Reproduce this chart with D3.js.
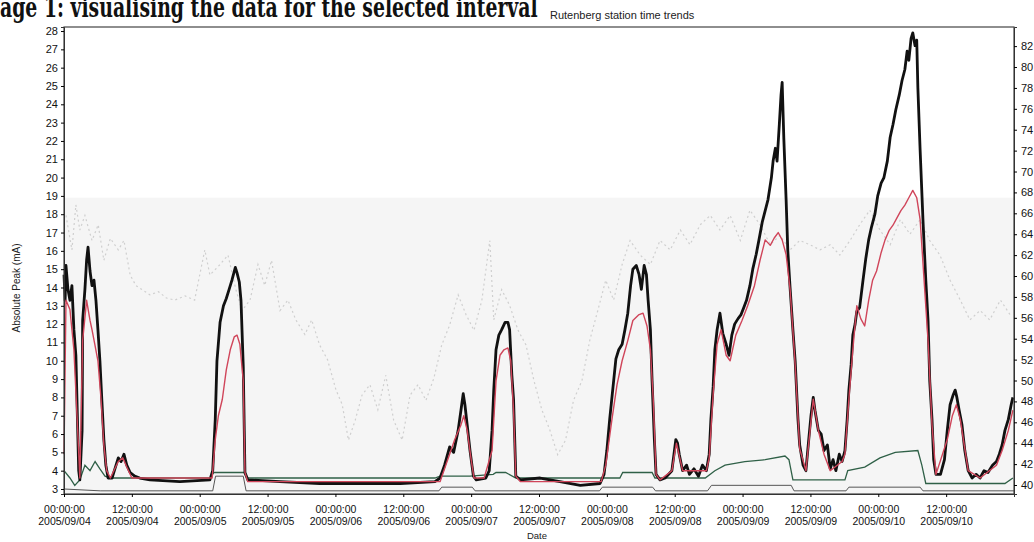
<!DOCTYPE html>
<html>
<head>
<meta charset="utf-8">
<script src="https://cdn.jsdelivr.net/npm/d3@7"></script>
<style>
  body { margin: 0; background: #fff; }
  svg { display: block; }
  .tick text { font-family: "Liberation Sans", Arial, sans-serif; fill: #111; }
</style>
</head>
<body>
<div id="chart"></div>
<script>
// hours after 2005/09/04 00:00, value (mA)
const phaseA = [[0,14.7],[0.2,13.3],[0.35,15.2],[0.7,13.9],[1.05,13.3],[1.4,14.1],[1.75,11.7],[2.1,10.3],[2.6,4.0],[2.8,3.5],[3.2,6.2],[3.3,12.2],[3.7,13.9],[4.0,15.5],[4.25,16.2],[4.6,14.9],[4.95,14.1],[5.3,14.4],[5.65,13.3],[6.0,11.7],[6.35,10.0],[6.7,7.8],[7.05,5.7],[7.4,4.3],[7.8,3.6],[8.5,3.6],[9.0,4.1],[9.6,4.7],[10.1,4.5],[10.6,4.9],[11.1,4.3],[11.7,3.9],[12.5,3.7],[13.4,3.6],[15.2,3.5],[20.5,3.4],[25.8,3.5],[26.3,4.0],[26.75,6.8],[27.05,10.0],[27.6,12.1],[28.2,13.0],[28.7,13.4],[29.2,13.9],[29.7,14.4],[30.3,15.1],[30.6,14.8],[31.0,14.3],[31.3,13.3],[31.7,9.7],[32.0,3.9],[32.5,3.5],[38.2,3.4],[45.2,3.3],[52.4,3.3],[59.5,3.3],[65.6,3.4],[66.5,3.6],[67.3,4.3],[68.2,5.3],[68.9,5.0],[69.7,6.2],[70.2,7.3],[70.6,8.2],[70.9,7.6],[71.3,6.5],[71.8,5.1],[72.4,3.7],[72.9,3.5],[74.6,3.6],[75.2,4.0],[75.7,6.2],[76.0,8.4],[76.4,10.6],[76.9,11.4],[77.4,11.7],[78.0,12.1],[78.5,12.1],[78.8,11.7],[79.2,9.2],[79.5,7.9],[79.9,3.7],[80.7,3.5],[84.2,3.6],[87.7,3.4],[91.3,3.2],[94.8,3.3],[95.5,3.8],[96.0,5.1],[96.5,6.8],[97.1,8.6],[97.6,10.1],[98.1,10.6],[98.7,10.9],[99.2,11.7],[99.7,12.6],[100.2,14.1],[100.6,15.0],[101.2,15.2],[101.7,14.7],[102.1,13.9],[102.6,15.2],[103.0,14.7],[103.3,13.3],[103.7,11.7],[104.0,8.9],[104.4,5.7],[104.7,3.8],[105.4,3.5],[106.3,3.6],[107.5,4.0],[108.2,5.7],[108.5,5.5],[108.8,4.9],[109.4,4.0],[110.1,4.3],[110.6,3.8],[111.4,4.1],[112.2,3.7],[112.9,4.3],[113.6,4.0],[114.1,4.9],[114.4,6.8],[114.8,8.6],[115.1,10.6],[115.5,11.7],[116.0,12.6],[116.5,11.5],[117.1,10.9],[117.6,10.3],[118.1,11.4],[118.6,12.0],[119.2,12.3],[119.7,12.5],[120.2,12.9],[120.7,13.3],[121.3,14.1],[121.8,15.0],[122.4,15.8],[122.9,16.6],[123.5,17.6],[124.0,18.2],[124.5,18.8],[125.1,20.0],[125.4,20.9],[125.8,21.6],[126.1,20.9],[126.5,22.9],[126.8,24.5],[127.0,25.2],[127.3,22.1],[127.7,18.8],[128.0,16.0],[128.4,14.0],[128.9,11.7],[129.3,10.0],[129.8,6.8],[130.1,5.4],[130.7,4.3],[131.2,4.0],[131.7,5.7],[132.1,7.0],[132.5,8.0],[132.8,7.3],[133.4,6.2],[133.9,6.0],[134.4,5.1],[135.0,5.4],[135.5,4.1],[136.0,4.6],[136.5,4.0],[137.1,4.9],[137.6,4.5],[138.1,5.1],[138.5,6.8],[138.8,8.4],[139.2,9.8],[139.5,11.4],[139.9,12.0],[140.2,12.7],[140.7,12.9],[141.3,14.4],[141.8,15.6],[142.3,16.6],[142.8,17.3],[143.4,18.0],[143.9,19.0],[144.5,19.7],[145.0,20.0],[145.6,20.9],[146.1,22.2],[146.6,22.9],[147.1,23.7],[147.7,24.5],[148.2,25.3],[148.7,25.9],[149.1,26.9],[149.4,26.4],[149.8,27.6],[150.1,27.9],[150.5,27.2],[150.8,27.5],[151.0,24.9],[151.4,21.5],[151.9,17.7],[152.4,14.4],[152.8,12.2],[153.1,8.9],[153.5,6.8],[153.8,4.6],[154.2,3.8],[155.0,3.8],[155.7,4.6],[156.2,6.2],[156.7,7.6],[157.2,8.1],[157.6,8.4],[157.9,8.0],[158.3,7.3],[158.8,6.5],[159.3,5.1],[159.9,4.0],[160.6,3.6],[161.3,3.8],[162.0,3.6],[162.7,4.0],[163.4,3.9],[164.2,4.3],[164.9,4.5],[165.4,4.9],[165.9,5.4],[166.4,6.2],[167.0,6.8],[167.5,7.6],[167.8,8.0]];

const phaseB = [[0,4.9],[0.35,13.3],[1.05,12.8],[1.75,10.6],[2.5,5.7],[2.8,3.6],[3.3,11.1],[4.0,13.3],[4.6,12.2],[4.95,11.7],[5.45,10.9],[6.0,10.0],[6.55,7.9],[7.05,5.4],[7.55,4.0],[8.2,3.6],[9.6,4.5],[10.4,4.7],[11.1,4.2],[12.0,3.6],[26.2,3.6],[26.75,5.7],[27.3,7.0],[28.0,7.9],[28.7,9.5],[29.4,10.6],[30.1,11.3],[30.6,11.4],[31.1,10.9],[31.7,8.9],[32.0,3.9],[32.5,3.4],[66.5,3.4],[67.3,4.1],[69.1,5.7],[70.2,6.5],[70.7,7.0],[71.3,6.2],[72.0,4.6],[72.5,3.6],[74.3,3.6],[75.7,5.1],[76.4,8.9],[77.1,10.3],[77.8,10.6],[78.5,10.7],[79.0,10.0],[79.5,7.3],[79.9,3.7],[80.7,3.4],[95.0,3.4],[95.8,4.3],[96.9,6.8],[97.8,8.7],[98.7,10.0],[99.7,11.1],[100.6,12.2],[101.6,12.5],[102.4,12.6],[103.1,11.9],[103.7,10.6],[104.2,7.9],[104.7,3.8],[105.4,3.5],[107.5,4.0],[108.3,5.5],[109.4,4.0],[113.6,4.0],[114.1,4.7],[114.8,8.2],[115.5,10.9],[116.2,11.7],[117.1,10.3],[117.8,10.0],[118.8,11.4],[119.9,12.2],[120.9,13.0],[122.1,14.1],[123.1,15.5],[124.0,16.6],[124.9,16.3],[125.6,16.7],[126.3,17.0],[127.0,16.6],[127.7,15.8],[128.4,13.9],[129.3,9.8],[130.1,5.2],[131.2,4.0],[132.5,7.9],[133.4,6.2],[134.4,4.9],[135.5,4.0],[137.6,4.5],[138.1,4.9],[138.8,7.9],[139.5,10.6],[140.2,13.0],[140.9,12.3],[141.6,11.9],[142.3,13.3],[143.0,14.4],[143.7,14.9],[144.5,15.9],[145.2,16.6],[145.9,17.1],[146.6,17.4],[147.3,17.8],[148.0,18.2],[148.7,18.5],[149.4,18.9],[150.1,19.3],[150.8,18.9],[151.4,17.7],[152.1,14.4],[152.8,11.1],[153.5,6.5],[154.2,3.8],[156.2,5.7],[157.1,7.0],[157.8,7.6],[158.5,6.8],[159.2,5.4],[159.9,4.0],[162.0,3.6],[164.9,4.3],[165.9,5.1],[167.0,6.2],[167.8,7.3]];

const neutral = [[0,4.0],[1.05,3.6],[1.9,3.2],[2.8,3.5],[3.7,4.3],[4.6,4.0],[5.5,4.5],[6.35,4.1],[7.25,3.7],[8.2,3.6],[25.8,3.6],[26.5,3.9],[31.8,3.9],[32.4,3.6],[65.6,3.6],[66.5,3.7],[71.8,3.7],[75.9,3.8],[76.4,3.9],[78.1,3.9],[79.9,3.6],[98.3,3.6],[98.8,3.9],[104.0,3.9],[104.5,3.6],[113.4,3.6],[115.1,4.0],[116.9,4.3],[120.4,4.5],[124.0,4.6],[127.5,4.8],[128.2,4.6],[128.9,3.5],[138.1,3.5],[138.6,4.0],[141.6,4.2],[144.3,4.7],[147.0,5.0],[151.0,5.1],[151.7,4.3],[152.4,3.3],[166.4,3.3],[167.8,3.6]];

const baseLine = [[0,3.0],[6.4,2.9],[26.3,2.9],[26.8,3.7],[31.7,3.7],[32.2,2.9],[66.3,2.9],[66.8,3.1],[72.2,3.1],[72.7,2.9],[94.7,2.9],[95.2,3.1],[104.1,3.1],[104.6,2.9],[113.8,2.9],[114.5,3.2],[128.6,3.2],[129.1,2.9],[138.3,2.9],[138.8,3.1],[151.4,3.1],[151.9,2.9],[168,2.9]];

// right axis series
const voltage = [[0.35,65.8],[1.4,62.5],[2.1,66.8],[2.8,64.4],[3.7,65.8],[4.95,63.4],[6.05,64.9],[7.05,61.5],[8.2,63.6],[9.6,62.5],[10.6,63.4],[11.7,60.1],[12.7,59.1],[13.8,58.7],[15.2,58.2],[16.7,58.5],[18.1,57.9],[19.6,57.7],[21.4,58.1],[23.1,57.7],[24.9,62.5],[25.8,60.1],[27.6,61.1],[29.0,62.0],[30.4,58.7],[31.5,56.7],[32.9,57.7],[34.3,61.1],[35.5,59.1],[36.7,61.5],[38.2,56.7],[39.6,57.7],[41.0,55.8],[42.6,54.4],[43.8,55.8],[45.2,53.4],[46.6,52.0],[48.1,49.1],[49.2,47.7],[50.3,44.3],[51.5,46.2],[52.7,48.6],[54.1,49.6],[55.5,47.2],[56.9,50.5],[58.3,46.2],[59.8,44.3],[61.2,48.6],[62.6,49.6],[64.0,48.1],[65.4,50.2],[66.8,53.4],[68.2,55.3],[69.7,58.2],[71.1,56.3],[72.5,54.8],[73.9,57.7],[75.3,63.4],[76.0,55.8],[77.4,58.7],[78.8,57.2],[80.3,54.8],[81.7,53.4],[83.1,50.0],[84.5,47.2],[85.9,45.3],[87.3,42.9],[88.7,44.3],[90.1,48.1],[91.6,50.0],[93.0,53.9],[94.4,56.7],[95.8,59.6],[97.2,57.7],[98.7,61.1],[100.1,63.4],[101.9,62.0],[103.7,61.1],[105.4,63.4],[107.2,62.5],[109.0,64.4],[110.7,63.0],[112.5,64.9],[114.3,65.8],[116.0,64.4],[117.8,65.8],[119.6,63.4],[121.3,66.3],[123.1,64.9],[124.9,63.0],[126.6,63.9],[128.4,62.5],[130.1,63.4],[131.9,63.0],[133.7,62.5],[135.5,63.0],[137.2,62.0],[139.0,63.4],[140.7,64.9],[142.5,66.3],[144.3,64.4],[146.1,63.0],[147.9,65.4],[149.6,64.0],[151.4,65.4],[153.1,63.4],[154.9,62.0],[156.7,59.6],[158.5,57.7],[160.2,55.8],[162.0,56.7],[163.7,55.8],[165.6,57.7],[167.3,56.3]];

const leftTicks = d3.range(3, 29);
const rightTicks = d3.range(40, 84, 2);

const W = 1034, H = 542;
const plot = { left: 64, right: 1014, top: 27, bottom: 494 };
const t0 = new Date(2005, 8, 4, 0, 0);
const t1 = new Date(2005, 8, 11, 0, 0);
const toDate = h => d3.timeMinute.offset(t0, Math.round(h * 60));

const svg = d3.select("#chart").append("svg")
  .attr("width", W).attr("height", H);

svg.append("rect").attr("width", W).attr("height", H).attr("fill", "#fff");

const x = d3.scaleTime().domain([t0, t1]).range([plot.left, plot.right]);
const yL = d3.scaleLinear().domain([2.727, 28.22]).range([plot.bottom, plot.top]);
const yR = d3.scaleLinear().domain([39.14, 83.83]).range([plot.bottom, plot.top]);

// faint shaded band in the lower part of the plot
svg.append("rect")
  .attr("x", plot.left).attr("y", yL(18.9))
  .attr("width", plot.right - plot.left).attr("height", plot.bottom - yL(18.9))
  .attr("fill", "#f5f5f5");

// header (page text, cropped at top), squeezed to its width in the scan
const header = svg.append("text")
  .attr("x", 0).attr("y", 17)
  .attr("font-family", "'DejaVu Serif', 'Liberation Serif', serif")
  .attr("font-size", 27).attr("font-weight", "bold")
  .attr("fill", "#111")
  .text("age 1: visualising the data for the selected interval");
const hw = header.node().getComputedTextLength();
header.attr("transform", `scale(${538 / hw},1)`);

svg.append("text")
  .attr("x", 550).attr("y", 19)
  .attr("font-family", "'Liberation Sans', Arial, sans-serif")
  .attr("font-size", 11).attr("fill", "#222")
  .text("Rutenberg station time trends");

const lineL = d3.line().x(d => x(toDate(d[0]))).y(d => yL(d[1]));
const lineR = d3.line().x(d => x(toDate(d[0]))).y(d => yR(d[1]));

svg.append("path").datum(voltage)
  .attr("d", lineR).attr("fill", "none")
  .attr("stroke", "#cfcfcf").attr("stroke-width", 1.2)
  .attr("stroke-dasharray", "2,3");

svg.append("path").datum(baseLine)
  .attr("d", lineL).attr("fill", "none")
  .attr("stroke", "#555").attr("stroke-width", 1);

svg.append("path").datum(neutral)
  .attr("d", lineL).attr("fill", "none")
  .attr("stroke", "#2f6047").attr("stroke-width", 1.3);

svg.append("path").datum(phaseA)
  .attr("d", lineL).attr("fill", "none")
  .attr("stroke", "#111").attr("stroke-width", 2.8)
  .attr("stroke-linejoin", "round");

svg.append("path").datum(phaseB)
  .attr("d", lineL).attr("fill", "none")
  .attr("stroke", "#d0455a").attr("stroke-width", 1.4)
  .attr("stroke-linejoin", "round");

// frame
svg.append("rect")
  .attr("x", plot.left).attr("y", plot.top)
  .attr("width", plot.right - plot.left).attr("height", plot.bottom - plot.top)
  .attr("fill", "none").attr("stroke", "#444").attr("stroke-width", 1.2);

// axes
const gL = svg.append("g")
  .attr("transform", `translate(${plot.left},0)`)
  .call(d3.axisLeft(yL).tickValues(leftTicks).tickSize(3).tickPadding(3));
gL.selectAll("text").attr("font-size", 11);

const gR = svg.append("g")
  .attr("transform", `translate(${plot.right},0)`)
  .call(d3.axisRight(yR).tickValues(rightTicks).tickSize(3).tickPadding(4));
gR.selectAll("text").attr("font-size", 11);

const fmtTime = d3.timeFormat("%H:%M:%S");
const fmtDay = d3.timeFormat("%Y/%m/%d");
const gB = svg.append("g")
  .attr("transform", `translate(0,${plot.bottom})`)
  .call(d3.axisBottom(x).ticks(d3.timeHour.every(12)).tickSize(3).tickFormat(""));
gB.selectAll(".tick").filter(d => +d === +t1).remove();
gB.selectAll(".tick").append("text")
  .attr("fill", "#111").attr("font-size", 10.5).attr("text-anchor", "middle")
  .each(function (d) {
    const t = d3.select(this);
    t.append("tspan").attr("x", 0).attr("y", 19).text(fmtTime(d));
    t.append("tspan").attr("x", 0).attr("y", 31).text(fmtDay(d));
  });
svg.selectAll(".domain").attr("stroke", "#333");

svg.append("text")
  .attr("x", 537).attr("y", 539)
  .attr("text-anchor", "middle")
  .attr("font-family", "'Liberation Sans', Arial, sans-serif")
  .attr("font-size", 9.5).attr("fill", "#222")
  .text("Date");

svg.append("text")
  .attr("transform", "translate(20,288) rotate(-90)")
  .attr("text-anchor", "middle")
  .attr("font-family", "'Liberation Sans', Arial, sans-serif")
  .attr("font-size", 10).attr("fill", "#222")
  .text("Absolute Peak (mA)");
</script>
</body>
</html>
